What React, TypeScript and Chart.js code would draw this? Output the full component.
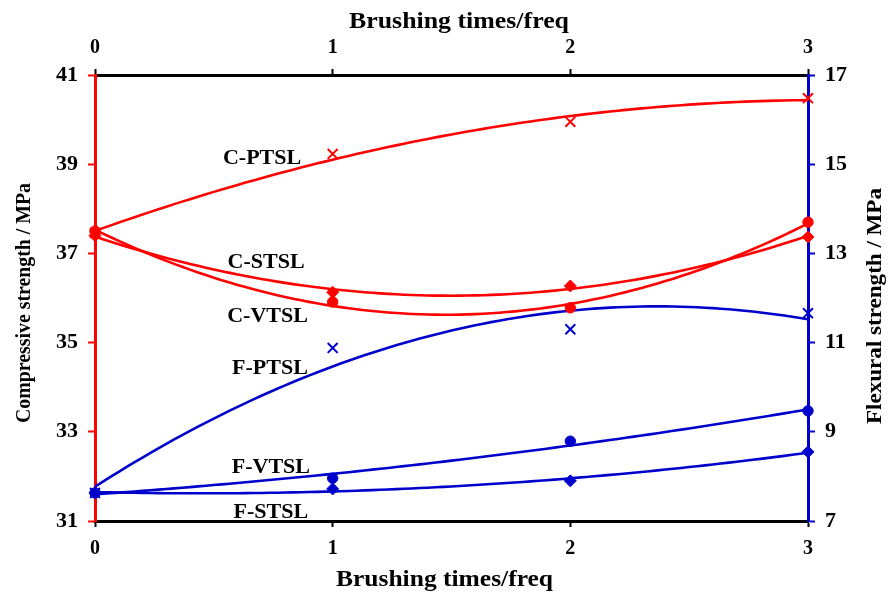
import React, { useEffect, useRef } from 'react';
import { Chart, registerables } from 'chart.js';

Chart.register(...registerables);

const SERIF = '"Liberation Serif", "Times New Roman", Times, serif';
const RED = '#FF0000';
const BLUE = '#0000CC';

// ---- data ----
const brushingTimes = [0, 1, 2, 3];
const xTickValues = [0, 1, 2, 3];
const compressiveTicks = [31, 33, 35, 37, 39, 41];
const flexuralTicks = [7, 9, 11, 13, 15, 17];

// compressive strength (MPa)
const cPTSL = [37.46, 39.23, 39.95, 40.48];
const cSTSL = [37.4, 36.13, 36.27, 37.37];
const cVTSL = [37.5, 35.91, 35.78, 37.7];
// flexural strength (MPa)
const fPTSL = [7.63, 10.88, 11.3, 11.66];
const fVTSL = [7.63, 7.96, 8.79, 9.47];
const fSTSL = [7.63, 7.72, 7.9, 8.55];

const seriesNames = ['C-PTSL', 'C-STSL', 'C-VTSL', 'F-PTSL', 'F-VTSL', 'F-STSL'];
const seriesValues = [cPTSL, cSTSL, cVTSL, fPTSL, fVTSL, fSTSL];
const seriesAxes = ['y', 'y', 'y', 'y2', 'y2', 'y2'];
const seriesColors = [RED, RED, RED, BLUE, BLUE, BLUE];
const seriesMarkers = ['crossRot', 'rectRot', 'circle', 'crossRot', 'circle', 'rectRot'];

// label anchors (x in brushing times, y on compressive axis, text baseline)
const labelAnchorX = [0.703, 0.72, 0.726, 0.736, 0.74, 0.74];
const labelAnchorY = [39.0, 36.67, 35.46, 34.3, 32.08, 31.07];

const xTitle = 'Brushing times/freq';
const yTitle = 'Compressive strength / MPa';
const y2Title = 'Flexural strength / MPa';

// polynomial (order 2) least-squares trendline, as in the original chart
function quadraticFit(xs: number[], ys: number[]) {
  let s0 = 0, s1 = 0, s2 = 0, s3 = 0, s4 = 0, t0 = 0, t1 = 0, t2 = 0;
  for (let i = 0; i < xs.length; i++) {
    const x = xs[i], y = ys[i];
    s0 += 1; s1 += x; s2 += x * x; s3 += x * x * x; s4 += x * x * x * x;
    t0 += y; t1 += x * y; t2 += x * x * y;
  }
  const det3 = (m: number[][]) =>
    m[0][0] * (m[1][1] * m[2][2] - m[1][2] * m[2][1]) -
    m[0][1] * (m[1][0] * m[2][2] - m[1][2] * m[2][0]) +
    m[0][2] * (m[1][0] * m[2][1] - m[1][1] * m[2][0]);
  const M = [[s0, s1, s2], [s1, s2, s3], [s2, s3, s4]];
  const T = [t0, t1, t2];
  const D = det3(M);
  const col = (k: number) => M.map((row, r) => row.map((v, c) => (c === k ? T[r] : v)));
  const a = det3(col(0)) / D, b = det3(col(1)) / D, c = det3(col(2)) / D;
  return (x: number) => a + b * x + c * x * x;
}

function trendPoints(values: number[]) {
  const f = quadraticFit(brushingTimes, values);
  const lo = brushingTimes[0], hi = brushingTimes[brushingTimes.length - 1];
  const pts: { x: number; y: number }[] = [];
  const n = 90;
  for (let k = 0; k <= n; k++) {
    const x = lo + ((hi - lo) * k) / n;
    pts.push({ x, y: f(x) });
  }
  return pts;
}

function drawFitted(ctx: CanvasRenderingContext2D, text: string, cx: number, cy: number, rot: number, size: number, targetLen: number, baseline: CanvasTextBaseline) {
  ctx.save();
  ctx.translate(cx, cy);
  ctx.rotate(rot);
  ctx.font = `bold ${size}px ${SERIF}`;
  const w = ctx.measureText(text).width;
  ctx.scale(targetLen / w, 1);
  ctx.textAlign = 'center';
  ctx.textBaseline = baseline;
  ctx.fillStyle = '#000';
  ctx.fillText(text, 0, 0);
  ctx.restore();
}

const textPlugin = {
  id: 'textPlugin',
  afterDraw(chart: any) {
    const { ctx, scales } = chart;
    const xs = scales.x, ys = scales.y;
    ctx.save();
    ctx.font = `bold 22px ${SERIF}`;
    ctx.fillStyle = '#000';
    ctx.textAlign = 'center';
    ctx.textBaseline = 'alphabetic';
    seriesNames.forEach((name, i) => {
      ctx.fillText(name, xs.getPixelForValue(labelAnchorX[i]), ys.getPixelForValue(labelAnchorY[i]));
    });
    ctx.restore();
    const area = chart.chartArea;
    const midY = (area.top + area.bottom) / 2;
    drawFitted(ctx, xTitle, 459, 28, 0, 24, 220, 'alphabetic');
    drawFitted(ctx, xTitle, 444.5, 586, 0, 24, 217, 'alphabetic');
    drawFitted(ctx, yTitle, 25, midY + 5, -Math.PI / 2, 21, 240, 'middle');
    drawFitted(ctx, y2Title, 875.5, midY + 8, -Math.PI / 2, 21, 236, 'middle');
  },
};

function xScale(position: 'top' | 'bottom', boxHeight: number, padding: number) {
  return {
    type: 'linear',
    position,
    min: 0,
    max: 3,
    afterBuildTicks: (s: any) => { s.ticks = xTickValues.map((v) => ({ value: v })); },
    afterFit: (s: any) => { s.height = boxHeight; },
    ticks: { font: { family: SERIF, size: 20, weight: 'bold' }, color: '#000', padding, maxRotation: 0 },
    grid: { display: true, drawOnChartArea: false, drawTicks: true, tickLength: 6, tickColor: '#000', tickWidth: 2 },
    border: { display: true, color: '#000', width: 3 },
    title: { display: false },
  };
}

function yScale(position: 'left' | 'right', ticksArr: number[], color: string, boxWidth: number) {
  return {
    type: 'linear',
    position,
    min: ticksArr[0],
    max: ticksArr[ticksArr.length - 1],
    afterBuildTicks: (s: any) => { s.ticks = ticksArr.map((v) => ({ value: v })); },
    afterFit: (s: any) => { s.width = boxWidth; },
    ticks: { font: { family: SERIF, size: 22, weight: 'bold' }, color: '#000', padding: 10 },
    grid: { display: true, drawOnChartArea: false, drawTicks: true, tickLength: 7, tickColor: color, tickWidth: 2 },
    border: { display: true, color, width: 3 },
    title: { display: false },
  };
}

export default function App() {
  const canvasRef = useRef<HTMLCanvasElement | null>(null);

  useEffect(() => {
    document.body.style.margin = '0';
    const canvas = canvasRef.current;
    if (!canvas) return;

    const datasets: any[] = [];
    seriesValues.forEach((vals, i) => {
      datasets.push({
        label: seriesNames[i] + ' fit',
        type: 'scatter',
        data: trendPoints(vals),
        yAxisID: seriesAxes[i],
        showLine: true,
        borderColor: seriesColors[i],
        borderWidth: 2.6,
        pointRadius: 0,
        tension: 0,
        fill: false,
        clip: false,
        order: 2,
      });
      const isCross = seriesMarkers[i] === 'crossRot';
      datasets.push({
        label: seriesNames[i],
        type: 'scatter',
        data: brushingTimes.map((x, k) => ({ x, y: vals[k] })),
        yAxisID: seriesAxes[i],
        showLine: false,
        pointStyle: seriesMarkers[i],
        pointRadius: isCross ? 7 : seriesMarkers[i] === 'rectRot' ? 6 : 5.2,
        pointBackgroundColor: seriesColors[i],
        pointBorderColor: seriesColors[i],
        pointBorderWidth: isCross ? 2 : 1,
        clip: false,
        order: 1,
      });
    });

    const chart = new Chart(canvas, {
      type: 'scatter',
      data: { datasets },
      options: {
        responsive: false,
        animation: false,
        devicePixelRatio: 1,
        layout: { padding: 0 },
        plugins: { legend: { display: false }, tooltip: { enabled: false } },
        scales: {
          x: xScale('bottom', 73, 10),
          x2: xScale('top', 75, 9),
          y: yScale('left', compressiveTicks, RED, 95),
          y2: yScale('right', flexuralTicks, BLUE, 83),
        } as any,
      },
      plugins: [textPlugin],
    } as any);

    return () => chart.destroy();
  }, []);

  return (
    <div style={{ width: 891, height: 594, background: '#fff' }}>
      <canvas ref={canvasRef} width={891} height={594} style={{ display: 'block' }} />
    </div>
  );
}
